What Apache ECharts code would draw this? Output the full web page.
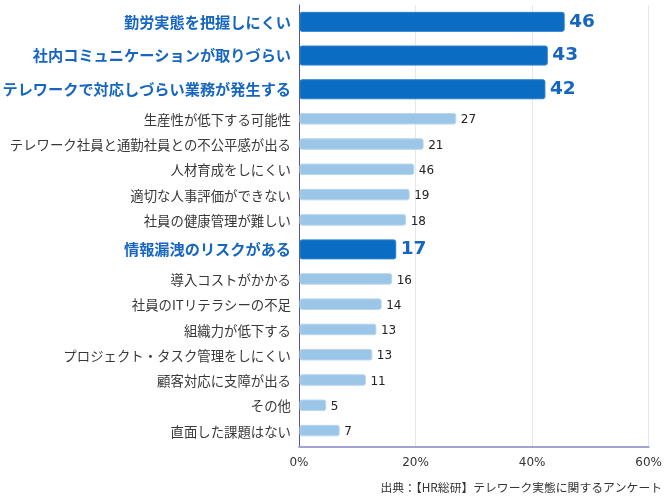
<!DOCTYPE html>
<html>
<head>
<meta charset="utf-8">
<script src="https://cdn.jsdelivr.net/npm/echarts@6/dist/echarts.min.js"></script>
<style>html,body{margin:0;padding:0;background:#fff;}#c{width:665px;height:500px;}</style>
</head>
<body>
<div id="c"></div>
<script>
const categories = [
  '勤労実態を把握しにくい',
  '社内コミュニケーションが取りづらい',
  'テレワークで対応しづらい業務が発生する',
  '生産性が低下する可能性',
  'テレワーク社員と通勤社員との不公平感が出る',
  '人材育成をしにくい',
  '適切な人事評価ができない',
  '社員の健康管理が難しい',
  '情報漏洩のリスクがある',
  '導入コストがかかる',
  '社員のITリテラシーの不足',
  '組織力が低下する',
  'プロジェクト・タスク管理をしにくい',
  '顧客対応に支障が出る',
  'その他',
  '直面した課題はない'
];
const values = [45.5, 42.6, 42.2, 26.9, 21.3, 19.7, 18.9, 18.3, 16.6, 15.9, 14.1, 13.2, 12.5, 11.4, 4.6, 6.9];
const valueLabels = ['46', '43', '42', '27', '21', '46', '19', '18', '17', '16', '14', '13', '13', '11', '5', '7'];
const highlighted = [true, true, true, false, false, false, false, false, true, false, false, false, false, false, false, false];
const xTicks = [0, 20, 40, 60];
const sourceNote = '出典：【HR総研】テレワーク実態に関するアンケート';

// layout: highlighted rows take 4 slots, others 3
const rowSlots = highlighted.map(h => h ? 4 : 3);
const centers = [];
let acc = 0;
rowSlots.forEach(s => { centers.push(acc + s / 2); acc += s; });
const totalSlots = acc + 0.45;

const DARK = '#0a6cc3';
const LIGHT = '#9cc6e8';
const HL_TEXT = '#1666c1';
const CJK = '"Noto Sans CJK JP", "Noto Sans", sans-serif';
const NUM = '"DejaVu Sans", sans-serif';

const data = values.map((v, i) => [v, centers[i], i]);

const chart = echarts.init(document.getElementById('c'), null, {renderer: 'canvas'});
chart.setOption({
  animation: false,
  grid: {left: 299, right: 16, top: 5, bottom: 53, containLabel: false},
  xAxis: {
    type: 'value', min: xTicks[0], max: xTicks[xTicks.length - 1], interval: 20,
    axisLine: {show: true, onZero: false, lineStyle: {color: '#a3a3d2', width: 2}},
    axisTick: {show: false},
    splitLine: {show: true, lineStyle: {color: '#e6e6ef', width: 1}},
    axisLabel: {formatter: '{value}%', color: '#333', fontSize: 12, fontFamily: NUM, margin: 10}
  },
  yAxis: {
    type: 'value', inverse: true, min: 0, max: totalSlots,
    axisLine: {show: true, onZero: false, lineStyle: {color: '#55559f', width: 1}},
    axisTick: {show: false}, axisLabel: {show: false}, splitLine: {show: false}
  },
  graphic: [{
    type: 'text', right: 3, top: 482,
    style: {text: sourceNote, fill: '#333', fontSize: 11.8, fontFamily: CJK}
  }],
  series: [{
    type: 'custom',
    clip: false,
    encode: {x: 0, y: 1},
    data: data,
    renderItem: function (params, api) {
      const i = api.value(2);
      const hl = highlighted[i];
      const end = api.coord([api.value(0), api.value(1)]);
      const start = api.coord([0, api.value(1)]);
      const h = hl ? 19 : 10.5;
      const children = [
        {type: 'rect', shape: {x: start[0] + 1, y: end[1] - h / 2, width: end[0] - start[0] - 1, height: h, r: 2},
         style: {fill: hl ? DARK : LIGHT, stroke: hl ? '#2b7fcb' : '#b8d6ef', lineWidth: 1}},
        {type: 'text', x: end[0] + 5, y: end[1] + (hl ? 0 : 1.5),
         style: {text: valueLabels[i], fill: hl ? HL_TEXT : '#222', fontSize: hl ? 18.5 : 12,
                 fontWeight: hl ? 'bold' : 'normal', fontFamily: NUM, align: 'left', verticalAlign: 'middle'}},
        {type: 'text', x: start[0] - 8, y: end[1] + (hl ? 0 : 1),
         style: {text: categories[i], fill: hl ? HL_TEXT : '#383838', fontSize: hl ? 15.2 : 13.4,
                 fontWeight: hl ? 'bold' : 'normal', fontFamily: CJK, align: 'right', verticalAlign: 'middle'}}
      ];
      return {type: 'group', children: children};
    }
  }]
});
</script>
</body>
</html>
